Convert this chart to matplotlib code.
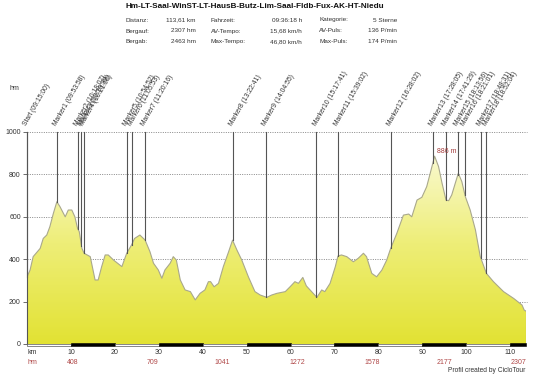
import numpy as np
import matplotlib
matplotlib.use("Agg")
import matplotlib.pyplot as plt
from matplotlib.patches import Rectangle, Polygon
import matplotlib.transforms as mtransforms
from matplotlib.colors import LinearSegmentedColormap

plt.rcParams['font.family'] = ['Liberation Sans', 'DejaVu Sans']

# ---------------- data ----------------
title = "Hm-LT-Saal-WinST-LT-HausB-Butz-Lim-Saal-Fldb-Fux-AK-HT-Niedu"
stat_labels = [["Distanz:", "Fahrzeit:", "Kategorie:"],
               ["Bergauf:", "AV-Tempo:", "AV-Puls:"],
               ["Bergab:", "Max-Tempo:", "Max-Puls:"]]
stat_values = [["113,61 km", "09:36:18 h", "5 Sterne"],
               ["2307 hm", "15,68 km/h", "136 P/min"],
               ["2463 hm", "46,80 km/h", "174 P/min"]]

dist_km = [0.0, 0.7, 1.4, 3.0, 3.7, 4.5, 5.2, 6.0, 6.8, 7.5, 8.7, 9.4, 10.2, 10.9,
           11.5, 11.9, 12.5, 13.0, 14.4, 15.5, 16.2, 17.0, 17.8, 18.5, 19.7, 21.6,
           22.7, 23.8, 24.5, 25.7, 26.9, 28.0, 28.8, 29.9, 30.7, 31.4, 32.6, 33.3,
           34.0, 34.9, 36.0, 37.2, 38.3, 39.4, 40.5, 41.3, 41.8, 42.6, 43.6, 44.7,
           45.9, 46.8, 47.8, 48.9, 50.4, 51.9, 53.1, 54.6, 55.7, 56.9, 58.8, 59.9,
           61.0, 61.8, 62.8, 63.6, 64.8, 66.0, 67.1, 67.8, 69.0, 70.2, 70.8, 71.6,
           72.8, 74.3, 75.4, 76.6, 77.3, 78.5, 79.6, 80.8, 81.9, 82.8, 84.2, 85.7,
           86.9, 87.6, 88.8, 89.9, 91.0, 91.8, 92.8, 93.7, 94.5, 95.4, 96.0, 96.7,
           97.5, 98.2, 99.0, 99.8, 100.9, 102.1, 103.2, 104.6, 106.2, 108.5, 110.8,
           112.7, 113.2, 113.61]
elev_m = [317, 349, 412, 451, 498, 514, 553, 616, 671, 648, 600, 632, 632, 600,
          546, 530, 451, 428, 412, 302, 302, 365, 420, 420, 396, 365,
          428, 467, 498, 514, 490, 435, 381, 349, 310, 349, 381, 412,
          396, 302, 255, 247, 208, 239, 255, 294, 294, 270, 286, 365,
          435, 490, 443, 396, 317, 247, 231, 220, 231, 239, 247, 270,
          294, 286, 314, 274, 247, 220, 255, 247, 286, 365, 415, 420,
          412, 388, 404, 428, 412, 333, 317, 349, 396, 451, 522, 608,
          613, 600, 679, 692, 742, 805, 886, 837, 758, 679, 676, 703,
          758, 805, 766, 695, 632, 538, 412, 333, 294, 247, 215,
          184, 160, 155]

marker_km = [0.0, 6.8, 11.6, 12.4, 13.0, 22.7, 23.8, 26.9, 46.8, 54.4, 65.9,
             70.8, 82.8, 92.4, 95.4, 98.1, 99.7, 103.3, 104.6]
marker_labels = ["Start (09:15:00)", "Marker1 (09:53:58)", "Marker2 (10:18:07)",
                 "Marker3 (10:19:39)", "Marker4 (10:21:50)", "Marker5 (10:54:52)",
                 "Marker6 (11:05:53)", "Marker7 (11:20:16)", "Marker8 (13:22:41)",
                 "Marker9 (14:04:55)", "Marker10 (15:17:41)", "Marker11 (15:39:02)",
                 "Marker12 (16:28:02)", "Marker13 (17:28:05)", "Marker14 (17:41:29)",
                 "Marker15 (18:13:56)", "Marker16 (18:21:01)", "Marker17 (18:48:31)",
                 "Marker18 (18:52:04)"]

km_ticks = [10, 20, 30, 40, 50, 60, 70, 80, 90, 100, 110]
y_ticks = [0, 200, 400, 600, 800, 1000]
hm_km = [10.4, 28.6, 44.5, 61.6, 78.5, 95.0, 113.61]
hm_vals = ["408", "709", "1041", "1272", "1578", "2177", "2307"]

# ---------------- figure ----------------
W, H = 550, 376
fig = plt.figure(figsize=(W / 100, H / 100), dpi=100)
fig.patch.set_facecolor('white')

def px(x, y):
    return x / W, 1 - y / H

txt_col = '#333333'
fig.text(*px(125, 7), title, fontsize=5.9, fontweight='bold', color='#111111',
         ha='left', va='center')
col_lab_x = [125, 211, 319]
col_val_x = [196, 302, 397]
row_y = [20, 31, 41.3]
for r in range(3):
    for c in range(3):
        fig.text(*px(col_lab_x[c], row_y[r]), stat_labels[r][c], fontsize=4.6,
                 color=txt_col, ha='left', va='center')
        fig.text(*px(col_val_x[c], row_y[r]), stat_values[r][c], fontsize=4.6,
                 color=txt_col, ha='right', va='center')

x0p, x1p, y0p, y1p = 27, 526, 344, 132
ax = fig.add_axes([x0p / W, 1 - y0p / H, (x1p - x0p) / W, (y0p - y1p) / H])
xmax = dist_km[-1]
ax.set_xlim(0, xmax)
ax.set_ylim(0, 1000)
ax.set_facecolor('white')
for s in ['top', 'right', 'bottom']:
    ax.spines[s].set_visible(False)
ax.spines['left'].set_color('#555555')
ax.spines['left'].set_linewidth(0.8)
ax.set_xticks([])
ax.set_yticks(y_ticks)
ax.set_yticklabels([str(v) for v in y_ticks], fontsize=5, color=txt_col)
ax.tick_params(axis='y', length=3, width=0.6, color='#555555', pad=1.5)

# grid
for v in y_ticks[1:]:
    ax.plot([0, xmax + 0.3], [v, v], color='#777777', lw=0.6,
            linestyle=(0, (1.2, 1.6)), clip_on=False, zorder=1)

# gradient fill
xs = np.array(dist_km, dtype=float)
ys = np.array(elev_m, dtype=float)
verts = np.vstack([np.column_stack([xs, ys]), [[xs[-1], 0], [xs[0], 0]]])
poly = Polygon(verts, closed=True, facecolor='none', edgecolor='none')
ax.add_patch(poly)
cmap = LinearSegmentedColormap.from_list('yel', ['#e2e233', '#eeee78', '#fbfbdc'])
grad = np.linspace(0, 1, 256).reshape(-1, 1)
im = ax.imshow(grad, cmap=cmap, origin='lower', aspect='auto',
               extent=(0, xmax, 0, 950), zorder=2)
im.set_clip_path(poly)
ax.plot(xs, ys, color='#a9a88c', lw=0.8, zorder=3)
ax.plot([xs[-1], xs[-1]], [0, ys[-1]], color='#a9a88c', lw=0.8, zorder=3)

# markers
for mk, lab in zip(marker_km, marker_labels):
    e = np.interp(mk, xs, ys)
    ax.plot([mk, mk], [e, 1000], color='#555555', lw=0.8, zorder=4, clip_on=False)
    ax.text(mk + 0.3, 1022, lab, rotation=60, rotation_mode='anchor',
            ha='left', va='bottom', fontsize=4.9, color=txt_col, clip_on=False)

# peak label
pk = int(np.argmax(ys))
ax.text(xs[pk] + 0.6, 910, "%d m" % int(ys[pk]), fontsize=5, color='#a33a3a',
        ha='left', va='center', zorder=5)

# bottom distance bar
trans = mtransforms.blended_transform_factory(ax.transData, ax.transAxes)
for i in range(int(np.ceil(xmax / 10))):
    a = 10 * i
    b = min(10 * (i + 1), xmax)
    if i % 2 == 1:
        rect = Rectangle((a, -0.011), b - a, 0.015, transform=trans,
                         facecolor='black', edgecolor='black', lw=0.4,
                         clip_on=False, zorder=6)
    else:
        rect = Rectangle((a, -0.009), b - a, 0.011, transform=trans,
                         facecolor='white', edgecolor='#555555', lw=0.5,
                         clip_on=False, zorder=6)
    ax.add_patch(rect)

# x labels
ytick_ax = (y0p - 352) / (y0p - y1p)
yhm_ax = (y0p - 362.5) / (y0p - y1p)
ax.text(0, ytick_ax, "km", transform=trans, fontsize=5, color=txt_col,
        ha='left', va='center')
for k in km_ticks:
    ax.text(k, ytick_ax, str(k), transform=trans, fontsize=5, color=txt_col,
            ha='center', va='center')
red = '#b04848'
ax.text(0, yhm_ax, "hm", transform=trans, fontsize=5, color=red,
        ha='left', va='center')
for k, v in zip(hm_km, hm_vals):
    ha = 'right' if k >= xmax else 'center'
    ax.text(k, yhm_ax, v, transform=trans, fontsize=5, color=red,
            ha=ha, va='center')

fig.text(*px(10, 89), "hm", fontsize=5, color=txt_col, ha='left', va='center')
fig.text(*px(525, 370.5), "Profil created by CicloTour", fontsize=4.8,
         color=txt_col, ha='right', va='center')

fig.savefig('out.png', dpi=100, facecolor='white')
